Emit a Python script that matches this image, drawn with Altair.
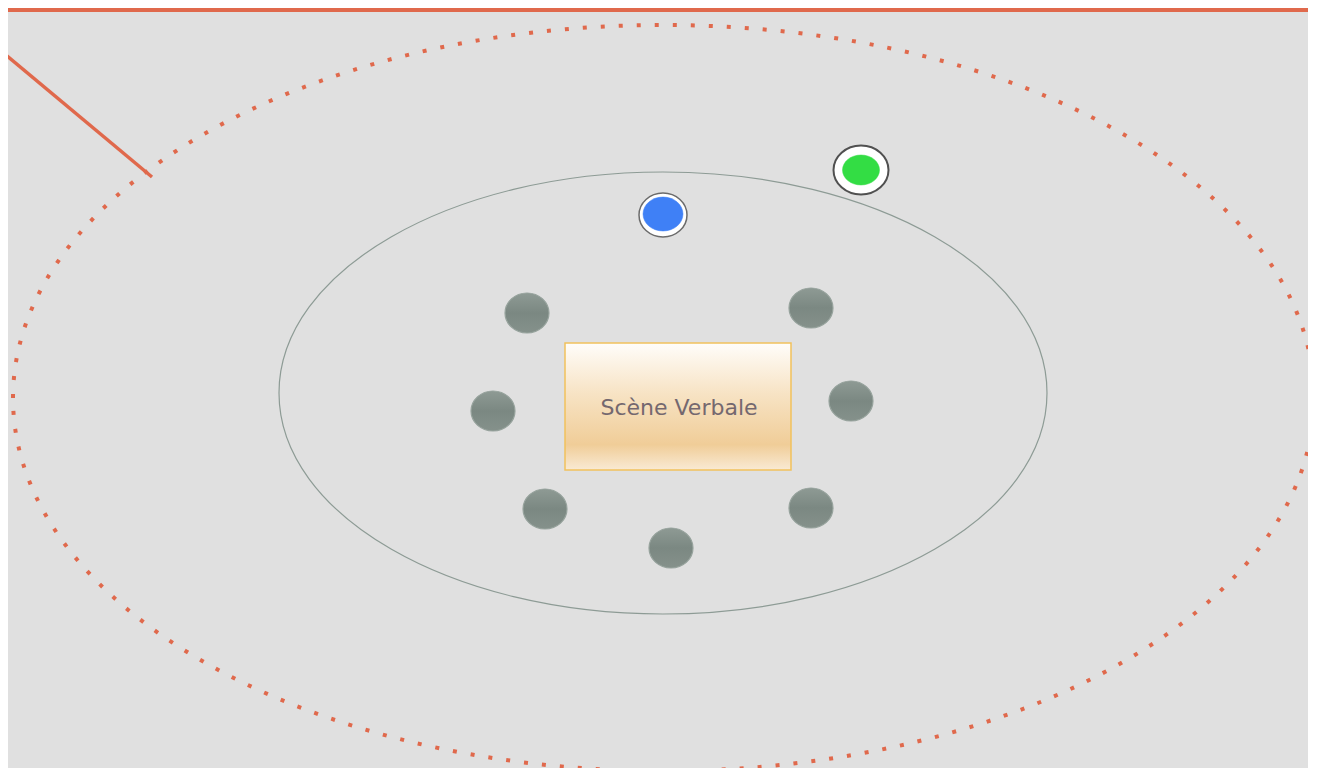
import altair as alt
import pandas as pd

# ---- diagram data (reference pixel coordinates) ----
seat_x = [527, 811, 493, 851, 545, 811, 671]
seat_y = [313, 308, 411, 401, 509, 508, 548]

blue_xy = [663, 215]
green_xy = [861, 170]

outer_ellipse = [663.5, 398, 650.5, 373]   # cx, cy, rx, ry (dotted)
inner_ellipse = [663, 393, 384, 221]       # cx, cy, rx, ry

box = [565, 791, 343, 470]                 # x1, x2, y1, y2
box_label = "Scène Verbale"
box_label_xy = [679, 408]

pointer = [0, 50, 152, 177]                # x1, y1, x2, y2
top_bar = [0, 1317, 8, 12]

ORANGE = "#e0694c"


def ellipse_path(ratio):
    r = round(ratio, 4)
    return f"M-1,0A1,{r},0,1,1,1,0A1,{r},0,1,1,-1,0Z"


XS = alt.Scale(domain=[8, 1308], nice=False, zero=False)
YS = alt.Scale(domain=[8, 768], nice=False, zero=False, reverse=True)


def X(f="x"):
    return alt.X(f"{f}:Q", scale=XS, axis=None)


def Y(f="y"):
    return alt.Y(f"{f}:Q", scale=YS, axis=None)


def ell_layer(cx, cy, rx, ry, **mk):
    df = pd.DataFrame({"x": [cx], "y": [cy]})
    return alt.Chart(df).mark_point(
        shape=ellipse_path(ry / rx), size=(2 * rx) ** 2, opacity=1, **mk
    ).encode(x=X(), y=Y())


bar_df = pd.DataFrame({"x": [top_bar[0]], "x2": [top_bar[1]], "y": [top_bar[2]], "y2": [top_bar[3]]})
bar = alt.Chart(bar_df).mark_rect(color=ORANGE, clip=True).encode(
    x=X(), x2="x2:Q", y=Y(), y2="y2:Q")

outer = ell_layer(*outer_ellipse, filled=False, stroke=ORANGE, strokeWidth=4,
                  strokeDash=[4, 14], strokeCap="butt")
inner = ell_layer(*inner_ellipse, filled=False, stroke="#8d9b95", strokeWidth=1.2)

ptr_df = pd.DataFrame({"x": [pointer[0]], "y": [pointer[1]], "x2": [pointer[2]], "y2": [pointer[3]]})
ptr = alt.Chart(ptr_df).mark_rule(color=ORANGE, strokeWidth=3.5, clip=True).encode(
    x=X(), y=Y(), x2="x2:Q", y2="y2:Q")

seats_df = pd.DataFrame({"x": seat_x, "y": seat_y})
seats = alt.Chart(seats_df).mark_point(
    shape=ellipse_path(40 / 44), size=44 ** 2, filled=True, opacity=1,
    fill=alt.Gradient(gradient="linear", x1=0, x2=0, y1=0, y2=1,
                      stops=[alt.GradientStop(color="#8e9a94", offset=0),
                             alt.GradientStop(color="#7b8882", offset=0.5),
                             alt.GradientStop(color="#85918b", offset=1)]),
    stroke="#97a39d", strokeWidth=1.2,
).encode(x=X(), y=Y())

blue_o = ell_layer(blue_xy[0], blue_xy[1], 24, 22, filled=True, fill="white",
                   stroke="#6b6b6b", strokeWidth=1.5)
blue_i = ell_layer(blue_xy[0], blue_xy[1] - 1, 20, 17, filled=True, fill="#3f80f6",
                   stroke="#3f80f6", strokeWidth=0.5)
green_o = ell_layer(green_xy[0], green_xy[1], 27.5, 24.5, filled=True, fill="white",
                    stroke="#505050", strokeWidth=2)
green_i = ell_layer(green_xy[0], green_xy[1], 18.5, 15, filled=True, fill="#33dd44",
                    stroke="#33dd44", strokeWidth=0.5)

box_df = pd.DataFrame({"x": [box[0]], "x2": [box[1]], "y": [box[2]], "y2": [box[3]]})
rect = alt.Chart(box_df).mark_rect(
    color=alt.Gradient(gradient="linear", x1=0, x2=0, y1=0, y2=1,
                       stops=[alt.GradientStop(color="#fffdfa", offset=0),
                              alt.GradientStop(color="#f7e3c4", offset=0.4),
                              alt.GradientStop(color="#f0cd98", offset=0.8),
                              alt.GradientStop(color="#f9ead4", offset=1)]),
    stroke="#f1c15c", strokeWidth=1.5,
).encode(x=X(), x2="x2:Q", y=Y(), y2="y2:Q")

txt_df = pd.DataFrame({"x": [box_label_xy[0]], "y": [box_label_xy[1]], "t": [box_label]})
txt = alt.Chart(txt_df).mark_text(
    font="DejaVu Sans", fontSize=22, color="#74686f",
    align="center", baseline="middle"
).encode(x=X(), y=Y(), text="t:N")

chart = alt.layer(bar, outer, inner, ptr, seats, blue_o, blue_i, green_o, green_i, rect, txt).properties(
    width=1300, height=760, padding=0, autosize=alt.AutoSizeParams(type="none"),
    background="#e0e0e0",
).configure_view(stroke=None, fill="#e0e0e0")

chart.save("out.html", embed_options={"renderer": "svg", "actions": False})
